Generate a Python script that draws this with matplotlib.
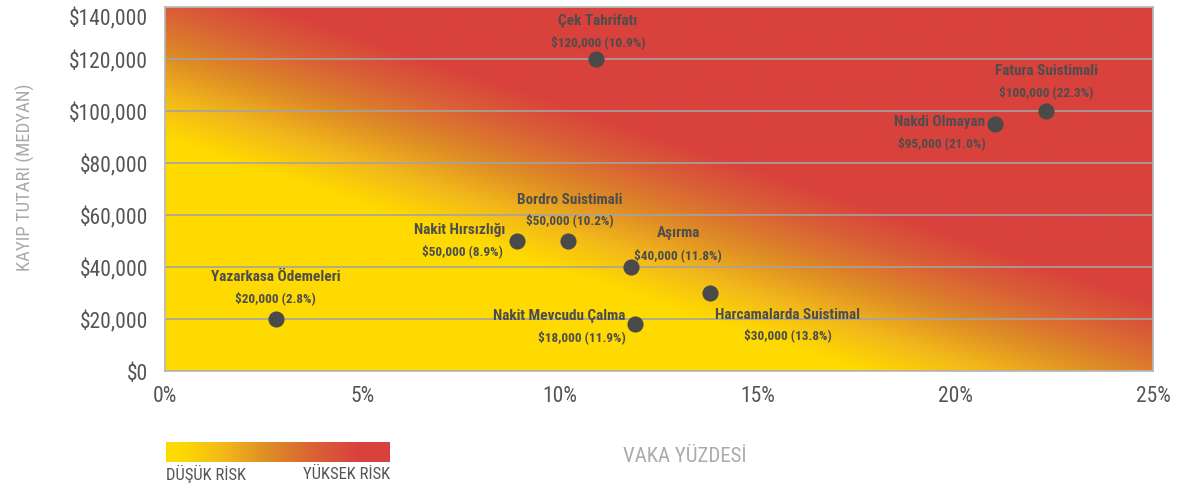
import numpy as np
import matplotlib
matplotlib.use("Agg")
import matplotlib.pyplot as plt
from matplotlib.colors import LinearSegmentedColormap

# ---------------- data ----------------
names = ["Çek Tahrifatı", "Fatura Suistimali", "Nakdi Olmayan", "Bordro Suistimali",
         "Nakit Hırsızlığı", "Aşırma", "Yazarkasa Ödemeleri", "Nakit Mevcudu Çalma",
         "Harcamalarda Suistimal"]
pct = [10.9, 22.3, 21.0, 10.2, 8.9, 11.8, 2.8, 11.9, 13.8]
loss = [120000, 100000, 95000, 50000, 50000, 40000, 20000, 18000, 30000]
x_ticks = [0, 5, 10, 15, 20, 25]
y_ticks = [0, 20000, 40000, 60000, 80000, 100000, 120000, 140000]
x_title = "VAKA YÜZDESİ"
y_title = "KAYIP TUTARI (MEDYAN)"
legend_low = "DÜŞÜK RİSK"
legend_high = "YÜKSEK RİSK"

# label placement: (dx_name, dy_name, dx_val, dy_val, ha) in pixels relative to point
label_pos = [
    (2, 39, 2, 18, "center"),
    (0, 41, 0, 20, "center"),
    (-10, 3, -9, -18, "right"),
    (2, 42, 2, 22, "center"),
    (-11, 12, -14, -9, "right"),
    (47, 35, 47, 13, "center"),
    (0, 43, 0, 22, "center"),
    (-10, 9, -10, -12, "right"),
    (77, -21, 77, -41, "center"),
]

W, H = 1183, 489
fig = plt.figure(figsize=(W / 100, H / 100), dpi=100)

NARROW = ["Roboto Condensed", "DejaVu Sans"]

cmap = LinearSegmentedColormap.from_list(
    "risk", ["#FFDA00", "#F2B81A", "#DE8B26", "#DA6236", "#D9413C"])

ax_l, ax_b, ax_w, ax_h = 165 / W, 1 - 372 / H, 988 / W, 364 / H
ax = fig.add_axes([ax_l, ax_b, ax_w, ax_h])

# background gradient (diagonal bands)
u = np.linspace(0, 1, 800)
v = np.linspace(0, 1, 400)
U, V = np.meshgrid(u, v)
t = 330 * U + 364 * V - 317.5
s = np.clip((t + 85) / 168, 0, 1)
ax.imshow(s, cmap=cmap, extent=[0, 25, 0, 140000], origin="lower",
          aspect="auto", zorder=0, interpolation="bilinear")

ax.set_xlim(0, 25)
ax.set_ylim(0, 140000)
ax.set_xticks(x_ticks)
ax.set_xticklabels([f"{v}%" for v in x_ticks])
ax.set_yticks(y_ticks)
ax.set_yticklabels([f"${v:,.0f}" for v in y_ticks])
ax.tick_params(length=0, labelsize=15.5, labelcolor="#555555")
ax.tick_params(axis="y", pad=12)
ax.tick_params(axis="x", pad=10)
for lab in ax.get_xticklabels() + ax.get_yticklabels():
    lab.set_family(NARROW)
    lab.set_stretch("condensed")
ax.get_yticklabels()[-1].set_verticalalignment("top")
ax.yaxis.grid(True, color="#a3a3a3", linewidth=1.2)
ax.xaxis.grid(False)
for sp in ax.spines.values():
    sp.set_color("#b5b5b5")
    sp.set_linewidth(1.2)

ax.scatter(pct, loss, s=135, color="#4a4a4a", zorder=4, linewidths=0)

for n, xv, yv, (dxn, dyn, dxv, dyv, ha) in zip(names, pct, loss, label_pos):
    ax.annotate(n, (xv, yv), xytext=(dxn * 0.72, dyn * 0.72), textcoords="offset points",
                ha=ha, va="center", fontsize=11, fontweight="bold", color="#4d4d4d",
                family=NARROW, fontstretch="condensed", zorder=5)
    ax.annotate(f"${yv:,.0f} ({xv:.1f}%)", (xv, yv), xytext=(dxv * 0.72, dyv * 0.72),
                textcoords="offset points", ha=ha, va="center", fontsize=9.5,
                fontweight="bold", color="#4d4d4d", family=NARROW,
                fontstretch="condensed", zorder=5)

# axis titles
fig.text(25 / W, 1 - 177 / H, y_title, rotation=90, ha="center", va="center",
         fontsize=13.5, color="#aaaaaa", family=NARROW, fontstretch="condensed")
fig.text(685 / W, 1 - 457 / H, x_title, ha="center", va="center",
         fontsize=15, color="#aaaaaa", family=NARROW, fontstretch="condensed")

# legend gradient bar
cax = fig.add_axes([166 / W, 1 - 463 / H, 224 / W, 20 / H])
g = np.clip((np.linspace(0, 1, 400) - 0.06) / 0.8, 0, 1)[None, :]
cax.imshow(g, cmap=cmap, aspect="auto", interpolation="bilinear")
cax.axis("off")
fig.text(166 / W, 1 - 474 / H, legend_low, ha="left", va="center",
         fontsize=12, color="#555555", family=NARROW, fontstretch="condensed")
fig.text(390 / W, 1 - 474 / H, legend_high, ha="right", va="center",
         fontsize=12, color="#555555", family=NARROW, fontstretch="condensed")

fig.savefig("out.png", dpi=100)
